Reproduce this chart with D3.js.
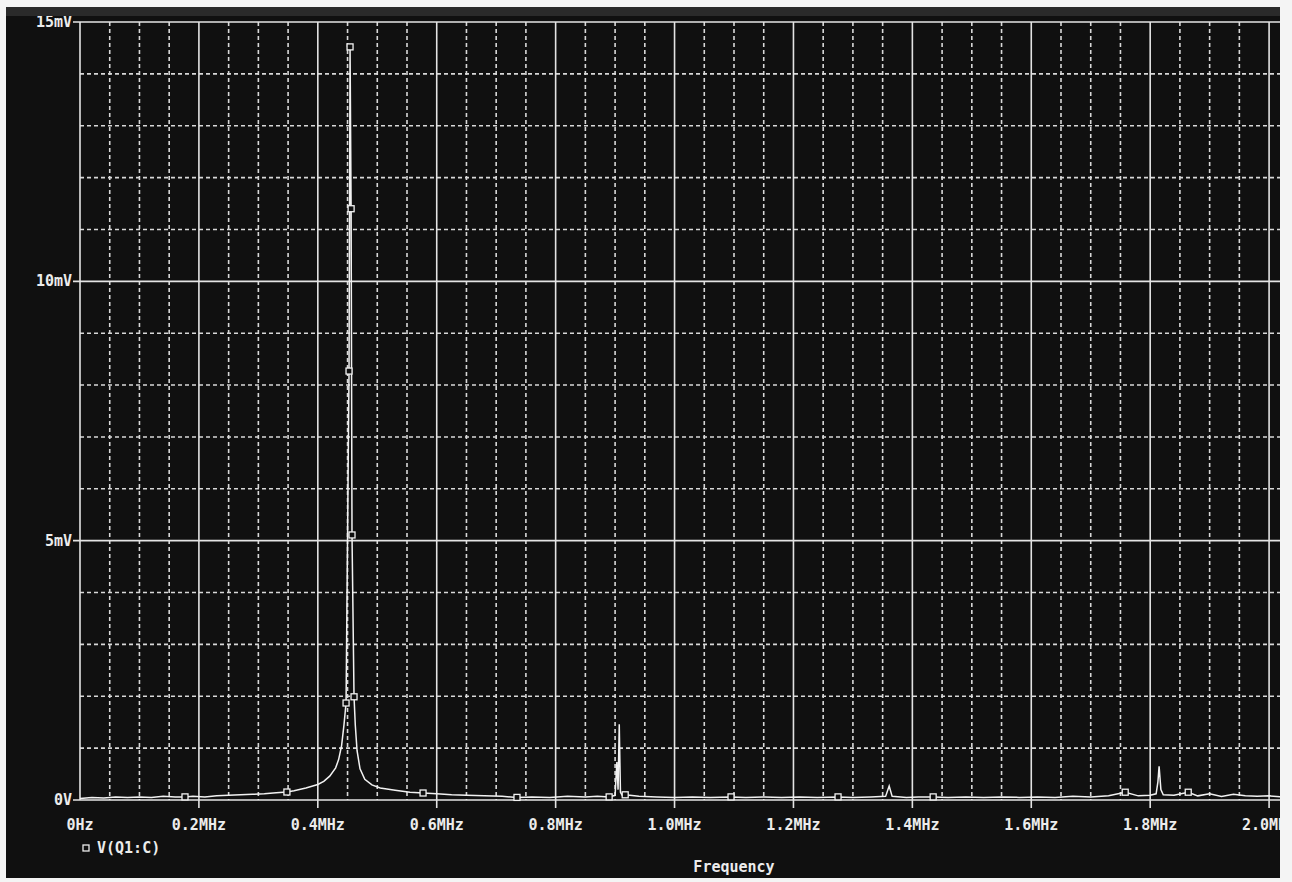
<!DOCTYPE html>
<html>
<head>
<meta charset="utf-8">
<script src="https://cdn.jsdelivr.net/npm/d3@7"></script>
<style>
  html, body { margin: 0; padding: 0; background: #fff; }
  svg { display: block; }
  text { font-family: "DejaVu Sans Mono", monospace; font-size: 15px; fill: #ececec; font-weight: bold; }
</style>
</head>
<body>
<svg id="chart" width="1292" height="882"></svg>
<script>
// spectrum of V(Q1:C)
var freqMHz = [0, 0.02, 0.04, 0.06, 0.08, 0.10, 0.12, 0.14, 0.16, 0.1766, 0.19, 0.21, 0.23, 0.25, 0.27, 0.29,
  0.31, 0.33, 0.348, 0.36, 0.38, 0.40, 0.41, 0.42, 0.43, 0.435, 0.44, 0.444, 0.4475, 0.4525, 0.4542, 0.456,
  0.4575, 0.4609, 0.463, 0.466, 0.471, 0.479, 0.491, 0.505, 0.53, 0.555, 0.577, 0.60, 0.625, 0.65, 0.68,
  0.71, 0.735, 0.76, 0.79, 0.82, 0.85, 0.87, 0.89, 0.90, 0.903, 0.905, 0.907, 0.909, 0.912, 0.917, 0.94,
  0.97, 1.00, 1.03, 1.06, 1.095, 1.12, 1.15, 1.18, 1.21, 1.24, 1.275, 1.30, 1.33, 1.355, 1.361, 1.366,
  1.39, 1.41, 1.435, 1.46, 1.49, 1.52, 1.55, 1.58, 1.61, 1.64, 1.67, 1.70, 1.73, 1.758, 1.78, 1.80, 1.81,
  1.813, 1.815, 1.818, 1.822, 1.84, 1.864, 1.88, 1.90, 1.92, 1.94, 1.96, 1.98, 2.00, 2.02, 2.05];

var voltMV = [0.03, 0.05, 0.04, 0.06, 0.05, 0.06, 0.05, 0.07, 0.06, 0.06, 0.07, 0.06, 0.08, 0.09, 0.10, 0.11,
  0.12, 0.14, 0.154, 0.18, 0.23, 0.30, 0.36, 0.46, 0.62, 0.78, 1.05, 1.45, 1.87, 8.27, 14.52, 11.4,
  5.11, 1.99, 1.45, 0.95, 0.60, 0.40, 0.29, 0.23, 0.19, 0.15, 0.135, 0.12, 0.10, 0.09, 0.08,
  0.07, 0.05, 0.06, 0.05, 0.07, 0.06, 0.07, 0.06, 0.09, 0.73, 0.20, 1.46, 0.15, 0.09, 0.10, 0.07,
  0.06, 0.05, 0.06, 0.05, 0.06, 0.05, 0.06, 0.05, 0.06, 0.05, 0.06, 0.05, 0.06, 0.07, 0.27, 0.07,
  0.05, 0.06, 0.06, 0.05, 0.06, 0.05, 0.06, 0.05, 0.06, 0.05, 0.07, 0.06, 0.08, 0.15, 0.08, 0.09, 0.12,
  0.35, 0.65, 0.20, 0.10, 0.09, 0.15, 0.08, 0.12, 0.07, 0.11, 0.08, 0.07, 0.08, 0.06, 0.07];

// trace points that carry a square marker
var markerFreqs = [0.1766, 0.348, 0.4475, 0.4525, 0.4542, 0.456, 0.4575, 0.4609, 0.577, 0.735,
  0.89, 0.917, 1.095, 1.275, 1.435, 1.758, 1.864];

var xMajor = [0, 0.2, 0.4, 0.6, 0.8, 1.0, 1.2, 1.4, 1.6, 1.8, 2.0, 2.2];
var xLabels = ["0Hz", "0.2MHz", "0.4MHz", "0.6MHz", "0.8MHz", "1.0MHz", "1.2MHz", "1.4MHz",
  "1.6MHz", "1.8MHz", "2.0MHz", "2.2MHz"];
var yMajor = [0, 5, 10, 15];
var yLabels = ["0V", "5mV", "10mV", "15mV"];

var traceName = "V(Q1:C)";
var xTitle = "Frequency";

var plot = { left: 80, right: 1388, top: 22, bottom: 800 };

var x = d3.scaleLinear().domain([0, 2.2]).range([plot.left, plot.right]);
var y = d3.scaleLinear().domain([0, 15]).range([plot.bottom, plot.top]);

var svg = d3.select("#chart");

// scanned sheet: black area on white paper
svg.append("rect").attr("width", 1292).attr("height", 882).attr("fill", "#f4f4f4");
svg.append("rect").attr("x", 6).attr("y", 7).attr("width", 1274).attr("height", 871).attr("fill", "#101010");
svg.append("rect").attr("x", 6).attr("y", 7).attr("width", 1274).attr("height", 9).attr("fill", "#2a2a2a");

svg.append("clipPath").attr("id", "sheet")
  .append("rect").attr("x", 6).attr("y", 16).attr("width", 1274).attr("height", 862);

var g = svg.append("g").attr("clip-path", "url(#sheet)");

var minorX = d3.range(0, 2.2001, 0.05).filter(function(d) {
  return Math.abs(d / 0.2 - Math.round(d / 0.2)) > 0.01;
});
var minorY = d3.range(1, 15, 1).filter(function(d) { return d % 5 != 0; });

// dotted minor grid
g.selectAll(".minX").data(minorX).enter().append("line")
  .attr("x1", function(d) { return x(d); }).attr("x2", function(d) { return x(d); })
  .attr("y1", plot.top).attr("y2", plot.bottom)
  .attr("stroke", "#d8d8d8").attr("stroke-width", 1.6).attr("stroke-dasharray", "4,3");

g.selectAll(".minY").data(minorY).enter().append("line")
  .attr("x1", plot.left).attr("x2", plot.right)
  .attr("y1", function(d) { return y(d); }).attr("y2", function(d) { return y(d); })
  .attr("stroke", "#d8d8d8").attr("stroke-width", 1.6).attr("stroke-dasharray", "4,3");

// solid major grid, with ticks poking out of the frame
g.selectAll(".majX").data(xMajor).enter().append("line")
  .attr("x1", function(d) { return x(d); }).attr("x2", function(d) { return x(d); })
  .attr("y1", plot.top).attr("y2", function(d, i) { return i == 0 ? plot.bottom : plot.bottom + 8; })
  .attr("stroke", "#e4e4e4").attr("stroke-width", 1.6);

g.selectAll(".majY").data(yMajor).enter().append("line")
  .attr("x1", plot.left - 7).attr("x2", plot.right)
  .attr("y1", function(d) { return y(d); }).attr("y2", function(d) { return y(d); })
  .attr("stroke", "#e4e4e4").attr("stroke-width", 1.6);

// tick labels
g.selectAll(".xl").data(xMajor).enter().append("text")
  .attr("x", function(d) { return x(d); }).attr("y", 830)
  .attr("text-anchor", "middle")
  .text(function(d, i) { return xLabels[i]; });

g.selectAll(".yl").data(yMajor).enter().append("text")
  .attr("x", plot.left - 8).attr("y", function(d) { return y(d) + 5; })
  .attr("text-anchor", "end")
  .text(function(d, i) { return yLabels[i]; });

// the trace
var pts = freqMHz.map(function(f, i) { return [f, voltMV[i]]; });

var line = d3.line()
  .x(function(d) { return x(d[0]); })
  .y(function(d) { return y(d[1]); });

g.append("path").datum(pts)
  .attr("d", line)
  .attr("fill", "none").attr("stroke", "#f2f2f2").attr("stroke-width", 1.5);

var markPts = pts.filter(function(d) { return markerFreqs.indexOf(d[0]) >= 0; });

g.selectAll(".mk").data(markPts).enter().append("rect")
  .attr("x", function(d) { return x(d[0]) - 3; })
  .attr("y", function(d) { return y(d[1]) - 3; })
  .attr("width", 6).attr("height", 6)
  .attr("fill", "#101010").attr("stroke", "#f2f2f2").attr("stroke-width", 1.3);

// legend and axis title
g.append("rect").attr("x", 83).attr("y", 845).attr("width", 6).attr("height", 6)
  .attr("fill", "#101010").attr("stroke", "#ececec").attr("stroke-width", 1.3);
g.append("text").attr("x", 97).attr("y", 853).text(traceName);

g.append("text").attr("x", (plot.left + plot.right) / 2).attr("y", 872)
  .attr("text-anchor", "middle").text(xTitle);
</script>
</body>
</html>
